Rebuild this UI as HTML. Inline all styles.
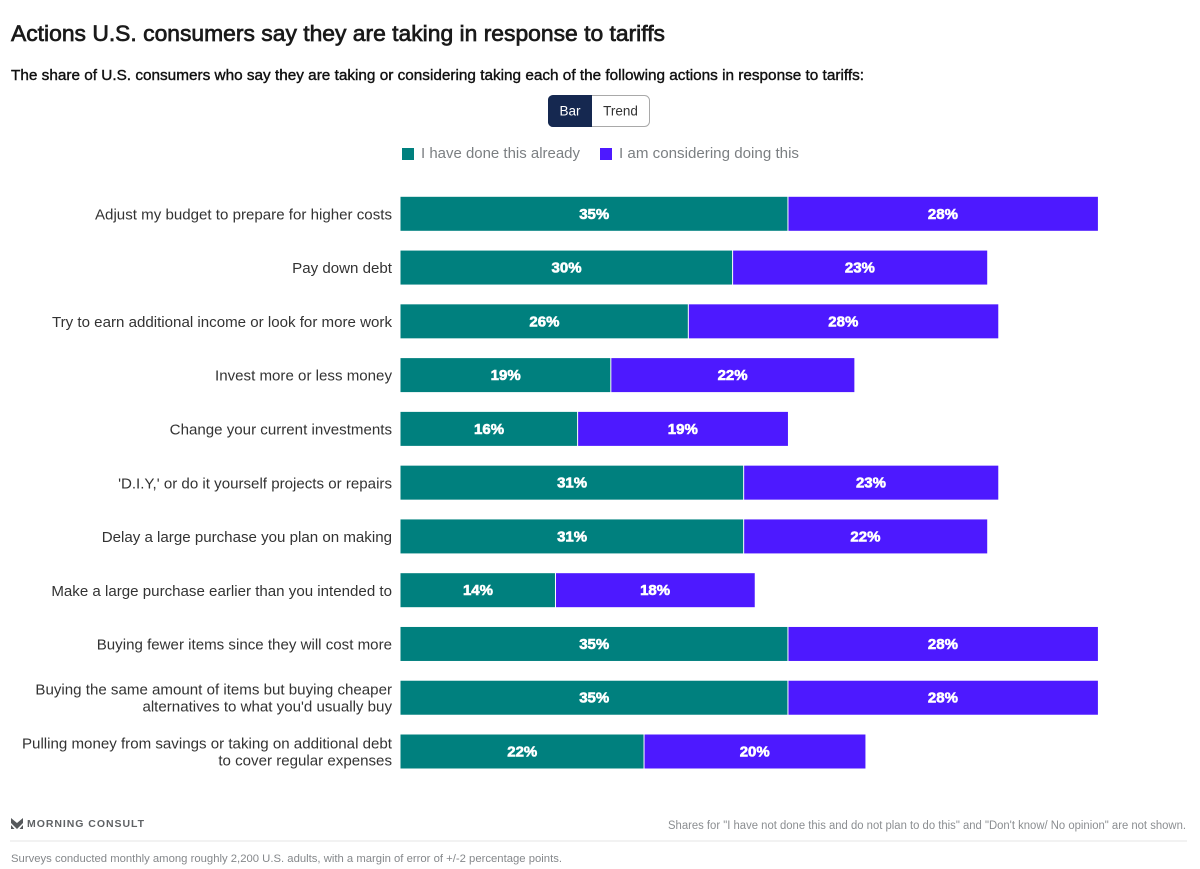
<!DOCTYPE html>
<html lang="en">
<head>
<meta charset="utf-8">
<title>Actions U.S. consumers say they are taking in response to tariffs</title>
<style>
html,body{margin:0;padding:0;background:#fff;width:1200px;height:869px;overflow:hidden}
svg{display:block}
text{font-family:"Liberation Sans",sans-serif}
</style>
</head>
<body>
<svg id="chart" xmlns="http://www.w3.org/2000/svg" width="1200" height="869" viewBox="0 0 1200 869">
  <text x="11" y="41" font-size="22" fill="#1a1a1a" stroke="#1a1a1a" stroke-width="0.7" textLength="654" lengthAdjust="spacingAndGlyphs">Actions U.S. consumers say they are taking in response to tariffs</text>
  <text x="11" y="80" font-size="15" fill="#111" stroke="#111" stroke-width="0.4" textLength="853" lengthAdjust="spacingAndGlyphs">The share of U.S. consumers who say they are taking or considering taking each of the following actions in response to tariffs:</text>

  <g>
    <rect x="548.5" y="95.5" width="101" height="31" rx="5" fill="#fff" stroke="#a9a9a9"/>
    <path d="M592 95H553.500A5 5 0 0 0 548 100V122A5 5 0 0 0 553.500 127H592Z" fill="#152850"/>
    <text x="570" y="115.500" font-size="13.500" fill="#fff" text-anchor="middle">Bar</text>
    <text x="620.500" y="115.500" font-size="13.500" fill="#333" text-anchor="middle">Trend</text>
  </g>

  <g>
    <rect x="402" y="148" width="12" height="12" fill="#00807e"/>
    <text x="421" y="158" font-size="15" fill="#7b7f82" textLength="159" lengthAdjust="spacingAndGlyphs">I have done this already</text>
    <rect x="600" y="148" width="12" height="12" fill="#4d19ff"/>
    <text x="619" y="158" font-size="15" fill="#7b7f82" textLength="180" lengthAdjust="spacingAndGlyphs">I am considering doing this</text>
  </g>

  <g id="plot"></g>

  <g>
    <path d="M11 818L17 823L23 818V823L17 829L11 823ZM11 825L14.500 829H11ZM23 825V829H19.500Z" fill="#55585b"/>
    <text x="27" y="827" font-size="10.500" font-weight="700" fill="#5f6265" textLength="117" lengthAdjust="spacing">MORNING CONSULT</text>
  </g>
  <text x="668" y="829" font-size="11.500" fill="#8b8e91" textLength="518" lengthAdjust="spacingAndGlyphs">Shares for "I have not done this and do not plan to do this" and "Don't know/ No opinion" are not shown.</text>
  <line x1="10" y1="841" x2="1187" y2="841" stroke="#e6e6e6" stroke-width="1"/>
  <text x="11" y="862" font-size="11" fill="#85888b" textLength="551" lengthAdjust="spacingAndGlyphs">Surveys conducted monthly among roughly 2,200 U.S. adults, with a margin of error of +/-2 percentage points.</text>
</svg>
<script>
const categories = [
  ["Adjust my budget to prepare for higher costs"],
  ["Pay down debt"],
  ["Try to earn additional income or look for more work"],
  ["Invest more or less money"],
  ["Change your current investments"],
  ["'D.I.Y,' or do it yourself projects or repairs"],
  ["Delay a large purchase you plan on making"],
  ["Make a large purchase earlier than you intended to"],
  ["Buying fewer items since they will cost more"],
  ["Buying the same amount of items but buying cheaper", "alternatives to what you'd usually buy"],
  ["Pulling money from savings or taking on additional debt", "to cover regular expenses"]
];
const doneValues = [35, 30, 26, 19, 16, 31, 31, 14, 35, 35, 22];
const consideringValues = [28, 23, 28, 22, 19, 23, 22, 18, 28, 28, 20];

const SVG_NS = "http://www.w3.org/2000/svg";
const plot = document.getElementById("plot");
const xOrigin = 400.5;
const unitWidth = 11.07;
const firstRowCenter = 213.8;
const rowStep = 53.77;
const barHeight = 34;

function xScale(v) { return xOrigin + v * unitWidth; }
function yScale(i) { return firstRowCenter + i * rowStep; }

function makeSvg(tag, attrs, parent) {
  const el = document.createElementNS(SVG_NS, tag);
  for (const k in attrs) el.setAttribute(k, attrs[k]);
  parent.appendChild(el);
  return el;
}

categories.forEach(function (lines, i) {
  const cy = yScale(i);
  const done = doneValues[i];
  const considering = consideringValues[i];

  const row = makeSvg("g", {}, plot);
  
  

  const label = makeSvg("text", {
    x: 392, y: lines.length === 1 ? cy + 5.6 : cy - 3,
    "font-size": 15.1, fill: "#333", "text-anchor": "end"
  }, row);
  
  
  lines.forEach(function (line, j) {
    const t = makeSvg("tspan", { x: 392, dy: j === 0 ? 0 : 17 }, label);
    t.textContent = line;
  });

  const doneBar = makeSvg("rect", {
    x: xScale(0), y: cy - barHeight / 2,
    width: xScale(done) - xScale(0) - 0.5, height: barHeight, fill: "#00807e"
  }, row);
  
  

  const consideringBar = makeSvg("rect", {
    x: xScale(done) + 0.5, y: cy - barHeight / 2,
    width: xScale(done + considering) - xScale(done) - 0.5, height: barHeight, fill: "#4d19ff"
  }, row);
  
  

  const doneLabel = makeSvg("text", {
    x: xScale(done / 2), y: cy + 5, "font-size": 15, "font-weight": 700,
    fill: "#fff", stroke: "#fff", "stroke-width": 0.6, "text-anchor": "middle"
  }, row);
  doneLabel.textContent = done + "%";
  
  

  const consideringLabel = makeSvg("text", {
    x: xScale(done + considering / 2), y: cy + 5, "font-size": 15, "font-weight": 700,
    fill: "#fff", stroke: "#fff", "stroke-width": 0.6, "text-anchor": "middle"
  }, row);
  consideringLabel.textContent = considering + "%";
  
  
});
</script>
</body>
</html>
